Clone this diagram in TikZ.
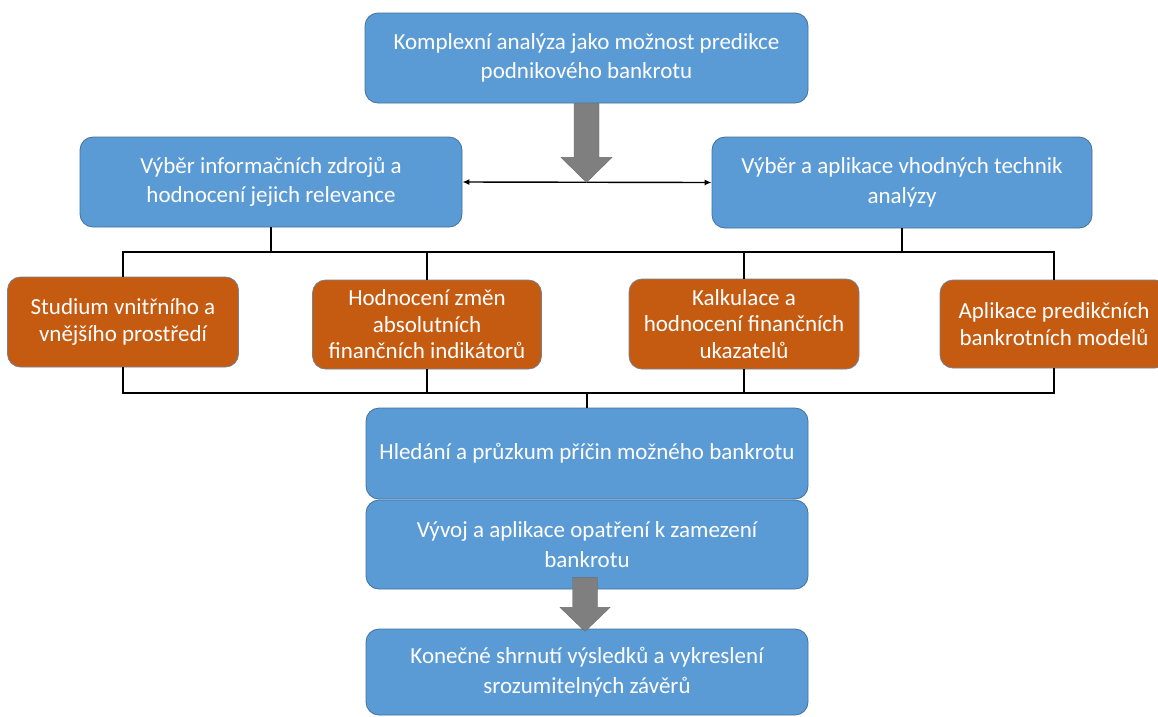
\documentclass[tikz,border=0pt]{standalone}
\usepackage{fontspec}
\setmainfont{Carlito}
\usetikzlibrary{arrows.meta,calc}
\definecolor{boxblue}{RGB}{91,155,213}
\definecolor{blueline}{RGB}{65,113,156}
\definecolor{boxorange}{RGB}{197,90,17}
\definecolor{orangeline}{RGB}{120,130,145}
\definecolor{arrowgray}{RGB}{127,127,127}
\tikzset{
  bluebox/.style={draw=blueline, line width=0.8pt, fill=boxblue, rounded corners=13pt,
    text=white, align=center, inner sep=0pt,
    font=\fontsize{23}{29.5}\selectfont},
  orangebox/.style={draw=orangeline, line width=0.8pt, fill=boxorange, rounded corners=13pt,
    text=white, align=center, inner sep=0pt,
    font=\fontsize{23}{26.5}\selectfont},
  conn/.style={draw=black, line width=1.8pt},
  dconn/.style={draw=black, line width=1.4pt, {Latex[length=7pt,width=6pt]}-{Latex[length=7pt,width=6pt]}},
  blockarrow/.style={fill=arrowgray, draw=arrowgray!85!black, line width=0.4pt}
}
\begin{document}
\begin{tikzpicture}[x=1pt,y=-1pt]
\useasboundingbox (0,0) rectangle (1158,716);
\clip (0,0) rectangle (1158,716);

% nodes
\node[bluebox, minimum width=443pt, minimum height=90pt] (T) at (586.5,58)
  {Komplexní analýza jako možnost predikce\\podnikového bankrotu};
\node[bluebox, minimum width=382pt, minimum height=90pt] (L) at (271,182)
  {Výběr informačních zdrojů a\\hodnocení jejich relevance};
\node[bluebox, minimum width=380pt, minimum height=91pt] (R) at (902,182.5)
  {Výběr a aplikace vhodných technik\\analýzy};

\node[orangebox, minimum width=231pt, minimum height=90pt] (O1) at (123,322)
  {Studium vnitřního a\\vnějšího prostředí};
\node[orangebox, minimum width=229pt, minimum height=89pt] (O2) at (427,324.5)
  {Hodnocení změn\\absolutních\\finančních indikátorů};
\node[orangebox, minimum width=230pt, minimum height=90pt] (O3) at (744,324)
  {Kalkulace a\\hodnocení finančních\\ukazatelů};
\node[orangebox, minimum width=228pt, minimum height=88pt] (O4) at (1054,324)
  {Aplikace predikčních\\bankrotních modelů};

\node[bluebox, minimum width=442pt, minimum height=91pt] (H) at (587,453.5)
  {Hledání a průzkum příčin možného bankrotu};
\node[bluebox, minimum width=442pt, minimum height=89pt] (V) at (587,544.5)
  {Vývoj a aplikace opatření k zamezení\\bankrotu};
\node[bluebox, minimum width=442pt, minimum height=86pt] (K) at (587,672)
  {Konečné shrnutí výsledků a vykreslení\\srozumitelných závěrů};

% bus coordinates
\coordinate (bT) at (0,252);
\coordinate (bB) at (0,393);

% double arrow
\draw[dconn] (L.east) -- (R.west);

% upper bus
\draw[conn] (O1.north) -- (O1.north |- bT) -- (O4.north |- bT) -- (O4.north);
\draw[conn] (O2.north) -- (O2.north |- bT);
\draw[conn] (O3.north) -- (O3.north |- bT);
\draw[conn] (L.south) -- (L.south |- bT);
\draw[conn] (R.south) -- (R.south |- bT);

% lower bus
\draw[conn] (O1.south) -- (O1.south |- bB) -- (O4.south |- bB) -- (O4.south);
\draw[conn] (O2.south) -- (O2.south |- bB);
\draw[conn] (O3.south) -- (O3.south |- bB);
\draw[conn] (H.north |- bB) -- (H.north);

% block arrow 1 (top box to double arrow)
\coordinate (a1) at (T.south);
\draw[blockarrow] ($(a1)+(-12.5,0)$) -- ($(a1)+(12.5,0)$) -- ($(a1)+(12.5,54)$)
  -- ($(a1)+(25.5,54)$) -- ($(a1)+(0,79)$) -- ($(a1)+(-25.5,54)$)
  -- ($(a1)+(-12.5,54)$) -- cycle;

% block arrow 2 (Vyvoj box to final box)
\coordinate (a2) at ($(V.south)+(-2,0)$);
\draw[blockarrow] ($(a2)+(-12.5,-12)$) -- ($(a2)+(12.5,-12)$) -- ($(a2)+(12.5,18)$)
  -- ($(a2)+(25,18)$) -- ($(a2)+(0,42)$) -- ($(a2)+(-25,18)$)
  -- ($(a2)+(-12.5,18)$) -- cycle;
\end{tikzpicture}
\end{document}
